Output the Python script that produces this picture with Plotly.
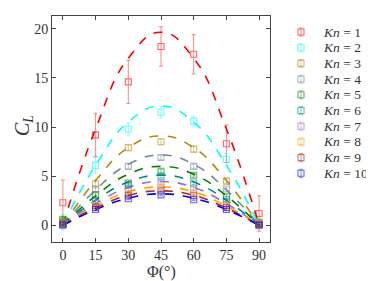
import plotly.graph_objects as go

phi = [0, 15, 30, 45, 60, 75, 90]
kn_labels = ["1", "2", "3", "4", "5", "6", "7", "8", "9", "10"]

cl_data = [
    [2.3, 9.2, 14.6, 18.2, 17.4, 8.3, 1.2],
    [0.3, 6.1, 9.8, 11.5, 10.6, 6.7, 0.3],
    [0.4, 4.2, 7.9, 8.5, 7.75, 4.5, 0.3],
    [0.3, 3.7, 6.0, 6.9, 6.0, 3.7, 0.2],
    [0.6, 3.1, 4.3, 5.5, 5.1, 2.9, 0.1],
    [0.2, 2.5, 4.1, 5.0, 4.3, 2.6, 0.1],
    [0.1, 2.2, 3.6, 4.3, 3.7, 2.1, 0.1],
    [0.1, 2.0, 3.2, 3.9, 3.3, 2.0, 0.1],
    [0.1, 1.8, 3.0, 3.5, 3.0, 1.8, 0.05],
    [0.0, 1.6, 2.7, 3.1, 2.6, 1.6, 0.0],
]
cl_err = [
    [2.3, 2.2, 2.2, 2.0, 2.0, 1.9, 1.8],
    [0.8, 0.8, 0.6, 0.6, 0.5, 0.6, 0.4],
    [0.4, 0.4, 0.3, 0.3, 0.3, 0.3, 0.3],
    [0.3, 0.3, 0.2, 0.2, 0.2, 0.2, 0.2],
    [0.2, 0.2, 0.2, 0.2, 0.2, 0.2, 0.2],
    [0.2, 0.2, 0.15, 0.15, 0.15, 0.15, 0.15],
    [0.15, 0.15, 0.15, 0.15, 0.15, 0.15, 0.15],
    [0.1, 0.1, 0.1, 0.1, 0.1, 0.1, 0.1],
    [0.1, 0.1, 0.1, 0.1, 0.1, 0.1, 0.1],
    [0.1, 0.1, 0.1, 0.1, 0.1, 0.1, 0.1],
]
cl_fit = [
    [0, 9.8, 17.0, 19.65, 17.0, 9.8, 0],
    [0, 6.1, 10.5, 12.15, 10.5, 6.1, 0],
    [0, 4.55, 7.9, 9.1, 7.9, 4.55, 0],
    [0, 3.6, 6.2, 7.15, 6.2, 3.6, 0],
    [0, 3.0, 5.2, 6.0, 5.2, 3.0, 0],
    [0, 2.55, 4.4, 5.1, 4.4, 2.55, 0],
    [0, 2.2, 3.85, 4.45, 3.85, 2.2, 0],
    [0, 1.95, 3.4, 3.9, 3.4, 1.95, 0],
    [0, 1.75, 3.05, 3.5, 3.05, 1.75, 0],
    [0, 1.6, 2.75, 3.2, 2.75, 1.6, 0],
]
colors = ["#ff0000", "#00ffff", "#b8860b", "#778899", "#008000",
          "#008b8b", "#9370db", "#ffa500", "#b22222", "#0000ff"]

SERIF = "Liberation Serif"
TXT = "#333333"
W, H = 374, 281
ML, MR, MT, MB = 44, 4, 8, 47
PW, PH = W - ML - MR, H - MT - MB
MAIN_RIGHT = 262  # px, right edge of the main plot frame
LEG_LEFT = 280    # px, left edge of the legend panel

def px_x(px):
    return (px - ML) / PW

def px_y(py):
    return (H - MB - py) / PH

fig = go.Figure()

for i in range(len(kn_labels)):
    fig.add_trace(go.Scatter(
        x=phi, y=cl_fit[i], mode="lines", xaxis="x", yaxis="y",
        line=dict(color=colors[i], width=1.6, dash="dash", shape="spline", smoothing=1.3),
        showlegend=False, hoverinfo="skip"))

for i in range(len(kn_labels)):
    fig.add_trace(go.Scatter(
        x=phi, y=cl_data[i], mode="markers", xaxis="x", yaxis="y",
        name="Kn = " + kn_labels[i], showlegend=False,
        marker=dict(symbol="square-open", size=6, color=colors[i], line=dict(width=1.1)),
        error_y=dict(type="data", array=cl_err[i], color=colors[i], thickness=0.8, width=2),
        opacity=0.6))

# legend panel (drawn on a hidden pixel-unit axis pair)
leg_x0, leg_y0, leg_dy = 293, 24, 15.7
annotations = []
for i in range(len(kn_labels)):
    yy = leg_y0 + leg_dy * i
    fig.add_trace(go.Scatter(
        x=[leg_x0], y=[yy], mode="markers", xaxis="x2", yaxis="y2", showlegend=False, hoverinfo="skip",
        marker=dict(symbol="square-open", size=6, color=colors[i], line=dict(width=1.1)),
        error_y=dict(type="constant", value=4, color=colors[i], thickness=0.8, width=2),
        opacity=0.6))
    annotations.append(dict(text="<i>Kn</i> = " + kn_labels[i], xref="x2", yref="y2", x=leg_x0 + 20, y=yy,
                            xanchor="left", yanchor="middle", showarrow=False,
                            font=dict(family=SERIF, size=13.5, color=TXT)))

annotations += [
    dict(text="Φ(°)", xref="paper", yref="paper", x=px_x(153), y=px_y(264), xanchor="center", yanchor="middle",
         showarrow=False, font=dict(family=SERIF, size=16, color=TXT)),
    dict(text="<i>C</i><sub><i>L</i></sub>", xref="paper", yref="paper", x=px_x(15), y=px_y(118),
         xanchor="center", yanchor="middle", textangle=-90, showarrow=False,
         font=dict(family=SERIF, size=20, color=TXT)),
]

axis_common = dict(ticks="inside", ticklen=4, tickcolor="#444", showline=True, linecolor="#444",
                   linewidth=1, mirror="ticks", showgrid=False, zeroline=False, automargin=False,
                   tickfont=dict(family=SERIF, size=14, color=TXT))

hidden = dict(visible=False, showgrid=False, zeroline=False, fixedrange=True)

fig.update_layout(
    width=W, height=H,
    margin=dict(l=ML, r=MR, t=MT, b=MB, autoexpand=False),
    paper_bgcolor="white", plot_bgcolor="rgba(0,0,0,0)",
    font=dict(family=SERIF, size=12, color=TXT),
    showlegend=False,
    xaxis=dict(range=[-5, 95], tickvals=phi, domain=[0, px_x(MAIN_RIGHT)], anchor="y", **axis_common),
    yaxis=dict(range=[-1.7, 21.3], tickvals=[0, 5, 10, 15, 20], domain=[0, 1], anchor="x", **axis_common),
    xaxis2=dict(range=[LEG_LEFT, W - MR], domain=[px_x(LEG_LEFT), 1], anchor="y2", **hidden),
    yaxis2=dict(range=[H - MB, MT], domain=[0, 1], anchor="x2", **hidden),
    annotations=annotations,
)

fig.write_html("out.html")
